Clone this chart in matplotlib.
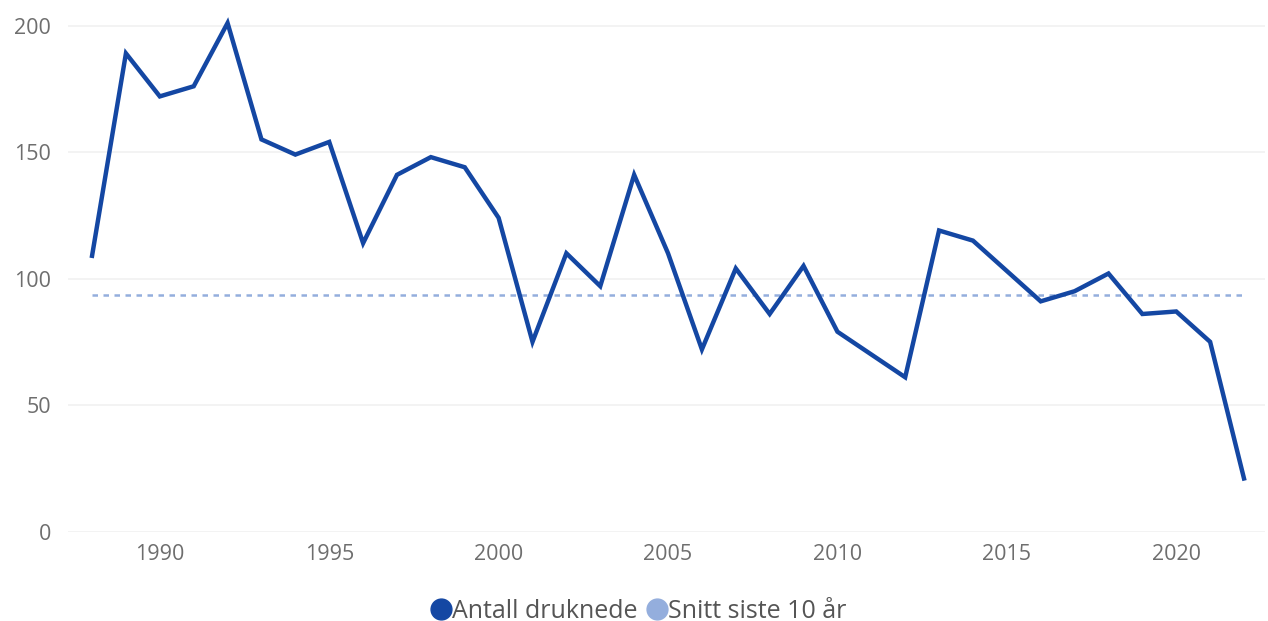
import matplotlib
matplotlib.use("Agg")
import matplotlib.pyplot as plt
from matplotlib.lines import Line2D

years = list(range(1988, 2023))
druknede = [109, 189, 172, 176, 201, 155, 149, 154, 114, 141,
            148, 144, 124, 75, 110, 97, 141, 110, 72, 104,
            86, 105, 79, 70, 61, 119, 115, 103, 91, 95,
            102, 86, 87, 75, 21]
snitt_10 = 93.4
y_ticks = [0, 50, 100, 150, 200]
x_ticks = [1990, 1995, 2000, 2005, 2010, 2015, 2020]
series_labels = ["Antall druknede", "Snitt siste 10 år"]

dark = "#1447A3"
light = "#94AEDD"

plt.rcParams['font.family'] = ['Open Sans', 'DejaVu Sans']

fig = plt.figure(figsize=(12.68, 6.21), dpi=100)
ax = fig.add_axes([68/1268, (621-531.6)/621, (1265-68)/1268, (531.6-12.9)/621])

ax.plot(years, druknede, color=dark, lw=3.2, solid_joinstyle='miter', zorder=3)
ax.plot([years[0], years[-1]], [snitt_10, snitt_10], color=light, lw=1.8,
        linestyle=(0, (2.2, 2.2)), zorder=2)

ax.set_xlim(1987.29, 2022.62)
ax.set_ylim(0, 205)
ax.set_yticks(y_ticks)
ax.set_xticks(x_ticks)
ax.grid(axis='y', color='#F1F1F1', lw=1.2)
ax.set_axisbelow(True)
for s in ax.spines.values():
    s.set_visible(False)
ax.tick_params(axis='both', length=0, labelsize=15.5, labelcolor='#6E6E6E')
ax.tick_params(axis='y', pad=12)
ax.tick_params(axis='x', pad=9)

handles = [Line2D([], [], marker='o', color='none', markerfacecolor=dark, markeredgecolor=dark, markersize=15),
           Line2D([], [], marker='o', color='none', markerfacecolor=light, markeredgecolor=light, markersize=15)]
fig.legend(handles, series_labels, loc='center', bbox_to_anchor=(640/1268, (621-611)/621),
           ncol=2, frameon=False, handlelength=0.6, handletextpad=0.12, columnspacing=0.5,
           fontsize=18, labelcolor='#555555')

fig.savefig("out.png", dpi=100)
